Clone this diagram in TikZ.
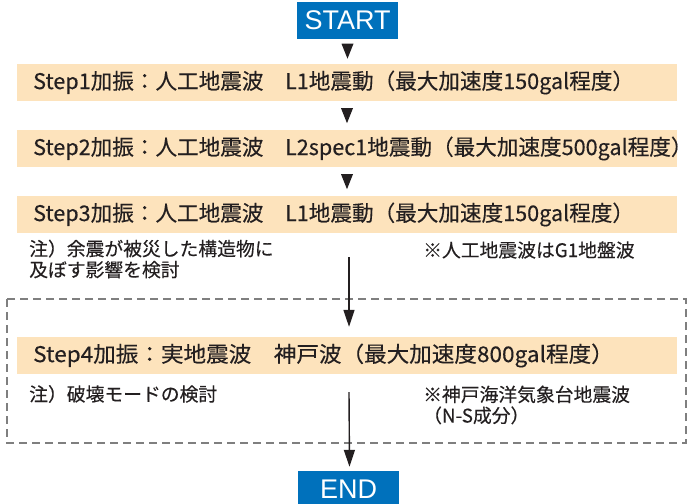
\documentclass[tikz,border=0pt]{standalone}
\usepackage{fontspec}
\setmainfont{Noto Sans CJK JP}[FakeBold=0.3]
\newfontfamily\latinsans{Liberation Sans}
\usetikzlibrary{arrows.meta,calc}
\definecolor{barfill}{HTML}{FDE3BC}
\definecolor{bluebox}{HTML}{0071BC}
\definecolor{txt}{HTML}{231F20}
\definecolor{dashgray}{HTML}{7F7F7F}
\begin{document}
\begin{tikzpicture}[x=1pt,y=-1pt,
  termbox/.style={fill=bluebox,text=white,minimum width=101pt,minimum height=37pt,inner sep=0pt,font=\latinsans\fontsize{27}{27}\selectfont},
  stepbar/.style={fill=barfill,minimum width=660pt,minimum height=37pt,inner sep=0pt},
  steptext/.style={anchor=west,text=txt,inner sep=0pt,font=\fontsize{21.6}{24}\selectfont},
  notetext/.style={anchor=west,text=txt,inner sep=0pt,align=left,font=\fontsize{18.8}{21}\selectfont},
  tri/.style={fill=txt},
  arr/.style={draw=txt,line width=1.4pt,-{Triangle[width=11pt,length=17pt]}},
  groupbox/.style={draw=dashgray,line width=1.3pt,dash pattern=on 8pt off 5pt}
]
\useasboundingbox (0,0) rectangle (692,503);
\clip (0,0) rectangle (692,503);
% group box
\draw[groupbox] (7,299) rectangle (686,443);
% terminals
\node[termbox] (start) at (347.5,20.5) {START};
\node[termbox] (end) at (348.5,489.5) {END};
% step bars
\node[stepbar] (s1) at (347,82.5) {};
\node[stepbar] (s2) at (347,148.5) {};
\node[stepbar] (s3) at (347,214.5) {};
\node[stepbar] (s4) at (347,355.5) {};
\node[steptext] (t1) at (33,82.5) {Step1加振：人工地震波　L1地震動（最大加速度150gal程度）};
\node[steptext] (t2) at (33,148.5) {Step2加振：人工地震波　L2spec1地震動（最大加速度500gal程度）};
\node[steptext] (t3) at (33,214.5) {Step3加振：人工地震波　L1地震動（最大加速度150gal程度）};
\node[steptext] (t4) at (33,355.5) {\scalebox{1.045}[1]{Step4加振：実地震波　神戸波（最大加速度800gal程度）}};
% notes
\node[notetext] (n1) at (29,259) {注）余震が被災した構造物に\\及ぼす影響を検討};
\node[notetext] (n2) at (423,250) {※人工地震波はG1地盤波};
\node[notetext] (n3) at (29,394) {注）破壊モードの検討};
\node[notetext] (n4) at (423,405) {※神戸海洋気象台地震波\\（N-S成分）};
% small triangles
\fill[tri] ($(start.south)+(-6,4.5)$) -- ++(12,0) -- ++(-6,15) -- cycle;
\fill[tri] ($(s1.south)+(-6,7)$) -- ++(12,0) -- ++(-6,15) -- cycle;
\fill[tri] ($(s2.south)+(-6,7)$) -- ++(12,0) -- ++(-6,15) -- cycle;
% arrows
\draw[arr] ([xshift=2pt,yshift=-24pt]s3.south) -- ([xshift=2pt,yshift=10pt]s4.north);
\draw[arr] ([xshift=2pt,yshift=-18pt]s4.south) -- ([xshift=1pt,yshift=4pt]end.north);
\end{tikzpicture}
\end{document}
